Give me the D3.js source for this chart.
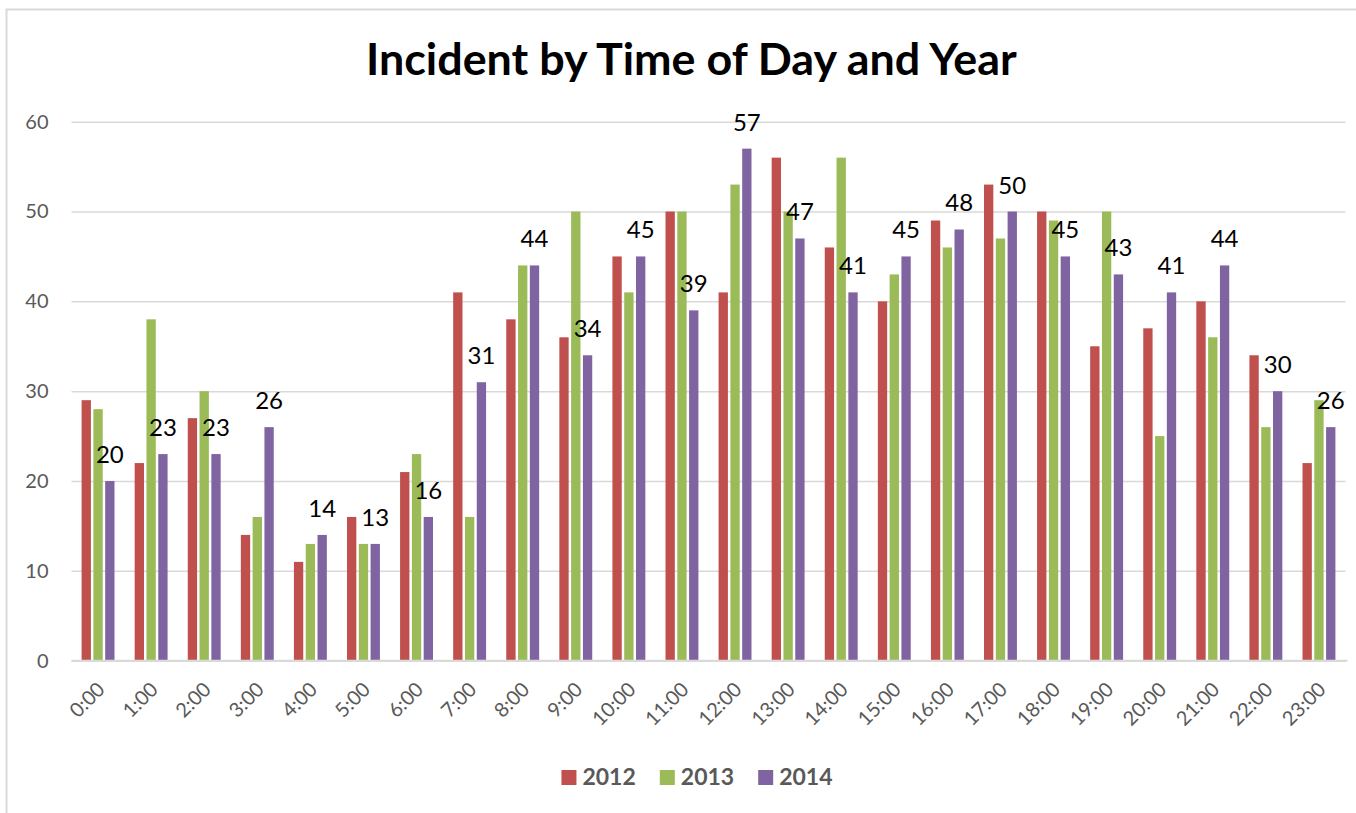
<!DOCTYPE html>
<html>
<head>
<meta charset="utf-8">
<script src="https://cdn.jsdelivr.net/npm/d3@7"></script>
<style>
  body { margin: 0; background: #fff; }
  svg { display: block; font-family: Lato, "Open Sans", sans-serif; }
</style>
</head>
<body>
<div id="chart"></div>
<script>
// data
var hours = ["0:00","1:00","2:00","3:00","4:00","5:00","6:00","7:00","8:00","9:00","10:00","11:00",
             "12:00","13:00","14:00","15:00","16:00","17:00","18:00","19:00","20:00","21:00","22:00","23:00"];
var years = ["2012", "2013", "2014"];
var values2012 = [29,22,27,14,11,16,21,41,38,36,45,50,41,56,46,40,49,53,50,35,37,40,34,22];
var values2013 = [28,38,30,16,13,13,23,16,44,50,41,50,53,50,56,43,46,47,49,50,25,36,26,29];
var values2014 = [20,23,23,26,14,13,16,31,44,34,45,39,57,47,41,45,48,50,45,43,41,44,30,26];
var yTicks = [0,10,20,30,40,50,60];
var colors = ["#c0504d", "#9bbb59", "#8064a2"];

var seriesValues = [values2012, values2013, values2014];
var data = hours.map(function(h, i) {
	return { hour: h, vals: years.map(function(y, j) { return { year: y, value: seriesValues[j][i] }; }) };
});

var width = 1356, height = 813;
var margin = {top: 121.7, right: 10.5, bottom: 152.3, left: 71.5};
var innerW = width - margin.left - margin.right;
var innerH = height - margin.top - margin.bottom;

var svg = d3.select("#chart")
  .append("svg")
    .attr("width", width)
    .attr("height", height);

// chart frame (cropped at the right and bottom)
svg.append("rect")
  .attr("x", 6.5).attr("y", 9.5)
  .attr("width", width + 20).attr("height", height + 20)
  .attr("fill", "none")
  .attr("stroke", "#d9d9d9")
  .attr("stroke-width", 2);

// title, sized to the reference width
var title = svg.append("text")
  .attr("x", 366).attr("y", 75)
  .attr("font-weight", "bold")
  .attr("font-size", 42)
  .attr("fill", "#000")
  .text("Incident by Time of Day and Year");
var tw = title.node().getComputedTextLength();
title.attr("font-size", 42 * 651 / tw);

var g = svg.append("g")
  .attr("transform", "translate(" + margin.left + "," + margin.top + ")");

var x0 = d3.scaleBand()
  .domain(hours)
  .range([0, innerW])
  .paddingInner(0.38)
  .paddingOuter(0.19);
var x1 = d3.scaleBand()
  .domain(years)
  .range([0, x0.bandwidth()])
  .paddingInner(0.21)
  .paddingOuter(0);
var yScale = d3.scaleLinear()
  .domain([0, 60])
  .range([innerH, 0]);

// gridlines + y labels
var yAxis = g.append("g")
  .call(d3.axisLeft(yScale).tickValues(yTicks).tickSize(-innerW).tickPadding(23));
yAxis.select(".domain").remove();
yAxis.selectAll("line").attr("stroke", "#d9d9d9").attr("stroke-width", 1.5);
yAxis.selectAll("text")
  .attr("fill", "#595959")
  .attr("font-size", 20)
  .attr("font-family", "Lato, sans-serif");

// bars
var groups = g.selectAll(".grp")
  .data(data)
  .enter().append("g")
    .attr("class", "grp")
    .attr("transform", function(d) { return "translate(" + x0(d.hour) + ",0)"; });

groups.selectAll("rect")
  .data(function(d) { return d.vals; })
  .enter().append("rect")
    .attr("x", function(d) { return x1(d.year); })
    .attr("y", function(d) { return yScale(d.value); })
    .attr("width", x1.bandwidth())
    .attr("height", function(d) { return innerH - yScale(d.value); })
    .attr("fill", function(d, i) { return colors[i]; });

// labels on 2014 bars
groups.append("text")
  .attr("x", function(d) { return x1("2014") + x1.bandwidth() / 2; })
  .attr("y", function(d) { return yScale(d.vals[2].value) - 18; })
  .attr("text-anchor", "middle")
  .attr("font-size", 24)
  .attr("fill", "#000")
  .text(function(d) { return d.vals[2].value; });

// x axis line + rotated labels
var xAxis = g.append("g")
  .attr("transform", "translate(0," + innerH + ")")
  .call(d3.axisBottom(x0).tickSize(0).tickPadding(0));
xAxis.select(".domain").attr("stroke", "#d9d9d9").attr("stroke-width", 2)
  .attr("d", "M0,0H" + (innerW + 2));
xAxis.selectAll("text")
  .attr("fill", "#595959")
  .attr("font-size", 20)
  .attr("font-family", "Lato, sans-serif")
  .style("text-anchor", "end")
  .attr("dy", null)
  .attr("transform", "translate(8,30) rotate(-45)");

// legend
var legend = svg.append("g");
var lx = 0;
years.forEach(function(yr, i) {
	legend.append("rect")
	  .attr("x", lx).attr("y", 770)
	  .attr("width", 15).attr("height", 15)
	  .attr("fill", colors[i]);
	var t = legend.append("text")
	  .attr("x", lx + 21).attr("y", 785)
	  .attr("font-size", 23)
	  .attr("font-weight", "bold")
	  .attr("fill", "#595959")
	  .text(yr);
	lx += 21 + t.node().getComputedTextLength() + 24;
});
lx -= 24;
legend.attr("transform", "translate(" + (697 - lx / 2) + ",0)");
</script>
</body>
</html>
